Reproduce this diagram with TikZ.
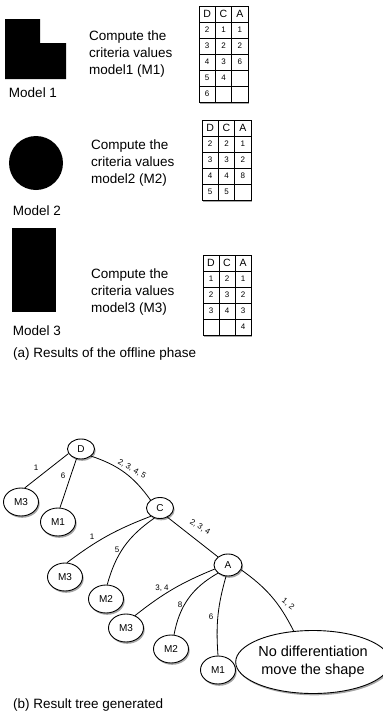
\documentclass[tikz,border=0pt]{standalone}
\usepackage{fontspec}
\setmainfont{Liberation Sans}
\usetikzlibrary{shapes.geometric,shadows}
\begin{document}
\begin{tikzpicture}[x=1pt,y=-1pt,
  shad/.style={drop shadow={shadow xshift=1.2pt,shadow yshift=-1.8pt,opacity=0.35,fill=black}},
  tnode/.style={ellipse,draw,fill=white,line width=0.9pt,inner sep=0pt,
     minimum width=35pt,minimum height=28pt,font=\fontsize{10}{12}\selectfont,shad},
  bignode/.style={tnode,minimum width=140pt,minimum height=63pt,align=center,
     font=\fontsize{14.5}{18}\selectfont},
  elabel/.style={font=\fontsize{8}{9}\selectfont,inner sep=0pt},
  edge/.style={line width=0.8pt},
  tab/.style={line width=0.8pt,fill=white,shad},
  tabline/.style={line width=0.8pt},
  hcell/.style={font=\fontsize{10.5}{12}\selectfont,inner sep=0pt},
  bcell/.style={font=\fontsize{8}{9}\selectfont,inner sep=0pt},
  txt/.style={font=\fontsize{13.5}{17}\selectfont,inner sep=0pt},
  ctxt/.style={txt,align=left,anchor=west}]
\useasboundingbox (0,0) rectangle (383,718);

% ---------- shapes ----------
\fill[black] (5,19) -- (40,19) -- (40,43) -- (66,43) -- (66,79) -- (5,79) -- cycle;
\fill[black] (36,163) circle[radius=27];
\fill[black] (12,228) rectangle (56,312);

\node[txt] (lm1) at (33,93) {Model 1};
\node[txt] (lm2) at (37,211) {Model 2};
\node[txt] (lm3) at (37,331) {Model 3};

\node[ctxt] (t1) at (89,54) {Compute the\\criteria values\\model1 (M1)};
\node[ctxt] (t2) at (91,163) {Compute the\\criteria values\\model2 (M2)};
\node[ctxt] (t3) at (91,292) {Compute the\\criteria values\\model3 (M3)};

% ---------- table 1 ----------
\draw[tab] (199,6) rectangle (248,102);
\foreach \yy in {22,38,54,70,86} \draw[tabline] (199,\yy) -- (248,\yy);
\foreach \xx in {215.3,231.7} \draw[tabline] (\xx,6) -- (\xx,102);
\foreach \c/\t in {0/D,1/C,2/A} \node[hcell] at (207.2+16.3*\c,14) {\t};
\foreach \c/\r/\t in {0/1/2,1/1/1,2/1/1, 0/2/3,1/2/2,2/2/2, 0/3/4,1/3/3,2/3/6, 0/4/5,1/4/4, 0/5/6}
  \node[bcell] at (207.2+16.3*\c,14+16*\r) {\t};

% ---------- table 2 ----------
\draw[tab] (202,120) rectangle (251,200);
\foreach \yy in {136,152,168,184} \draw[tabline] (202,\yy) -- (251,\yy);
\foreach \xx in {218.3,234.7} \draw[tabline] (\xx,120) -- (\xx,200);
\foreach \c/\t in {0/D,1/C,2/A} \node[hcell] at (210.2+16.3*\c,128) {\t};
\foreach \c/\r/\t in {0/1/2,1/1/2,2/1/1, 0/2/3,1/2/3,2/2/2, 0/3/4,1/3/4,2/3/8, 0/4/5,1/4/5}
  \node[bcell] at (210.2+16.3*\c,128+16*\r) {\t};

% ---------- table 3 ----------
\draw[tab] (203,255) rectangle (251,335);
\foreach \yy in {271,287,303,319} \draw[tabline] (203,\yy) -- (251,\yy);
\foreach \xx in {219,235} \draw[tabline] (\xx,255) -- (\xx,335);
\foreach \c/\t in {0/D,1/C,2/A} \node[hcell] at (211+16*\c,263) {\t};
\foreach \c/\r/\t in {0/1/1,1/1/2,2/1/1, 0/2/2,1/2/3,2/2/2, 0/3/3,1/3/4,2/3/3, 2/4/4}
  \node[bcell] at (211+16*\c,263+16*\r) {\t};

\node[txt,anchor=west] (capa) at (13,354) {(a) Results of the offline phase};

% ---------- tree ----------
\node[tnode,minimum width=27pt,minimum height=20pt] (D) at (81,449) {D};
\node[tnode] (M3a) at (21,502) {M3};
\node[tnode] (M1a) at (58,522) {M1};
\node[tnode,minimum width=27pt,minimum height=21pt] (C) at (160,508) {C};
\node[tnode] (M3b) at (65,577) {M3};
\node[tnode] (M2b) at (106,599) {M2};
\node[tnode,minimum width=28pt,minimum height=22pt] (A) at (228,565) {A};
\node[tnode] (M3c) at (126,628) {M3};
\node[tnode] (M2c) at (171,649) {M2};
\node[tnode] (M1c) at (218,670) {M1};
\node[bignode] (big) at (313,662) {No differentiation\\move the shape};

\draw[edge] (D.200) -- (M3a.75);
\draw[edge] (D.245) -- (M1a.82);
\draw[edge] (D.-35) to[bend left=18] (C.140);
\draw[edge] (C.222) to[bend right=8] (M3b.82);
\draw[edge] (C.241) to[bend right=20] (M2b.85);
\draw[edge] (C.-51) -- (A.141);
\draw[edge] (A.197) to[bend right=8] (M3c.54);
\draw[edge] (A.219) to[bend right=25] (M2c.78);
\draw[edge] (A.260) to[bend right=10] (M1c.90);
\draw[edge] (A.-20) to[bend left=14] (big.122);

\node[elabel] (l1) at (36,468) {1};
\node[elabel] (l2) at (63,476) {6};
\node[elabel,rotate=-30] (l3) at (132,469) {2, 3, 4, 5};
\node[elabel] (l4) at (92,537) {1};
\node[elabel] (l5) at (117,550) {5};
\node[elabel,rotate=-32] (l6) at (200,527) {2, 3, 4};
\node[elabel] (l7) at (162,588) {3, 4};
\node[elabel] (l8) at (180,605) {8};
\node[elabel] (l9) at (211,617) {6};
\node[elabel,rotate=-38] (l10) at (288,604) {1, 2};

\node[txt,anchor=west] (capb) at (13,705) {(b) Result tree generated};
\end{tikzpicture}
\end{document}
